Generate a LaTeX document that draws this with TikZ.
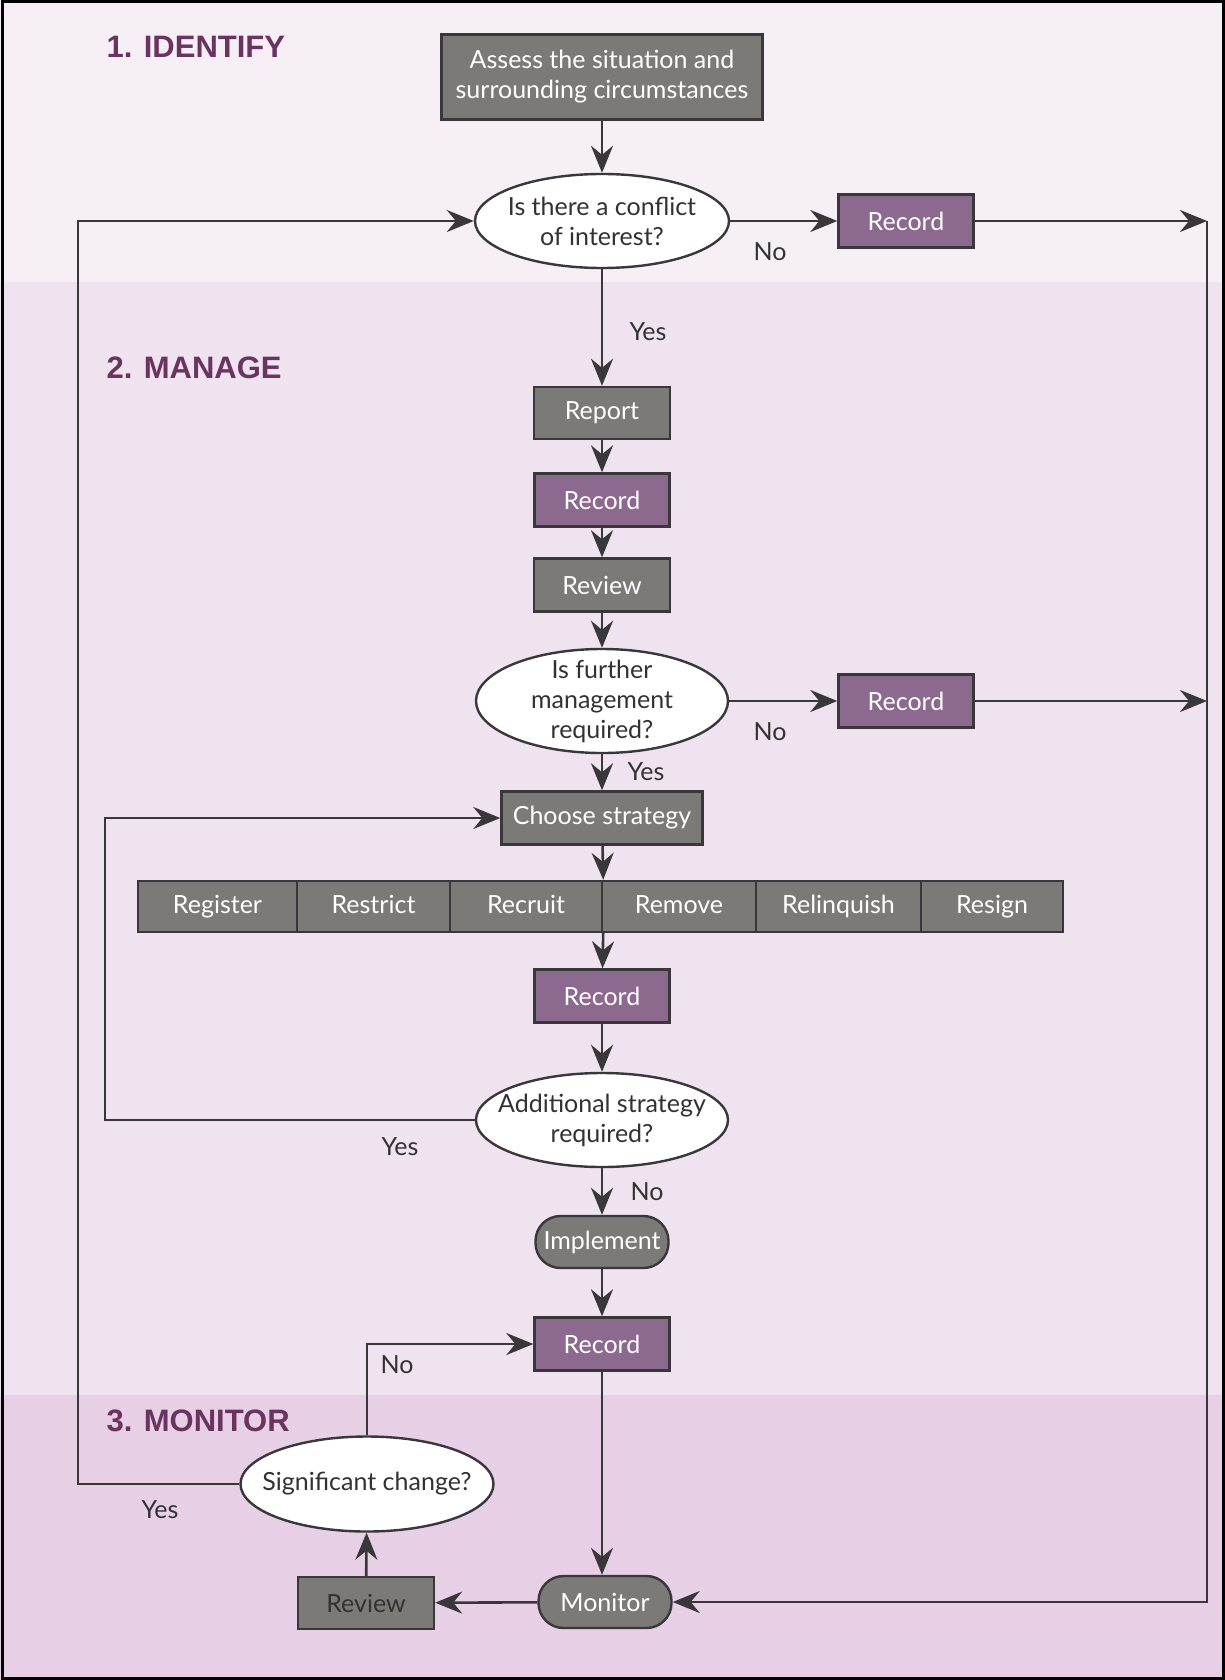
\documentclass[tikz,border=0pt]{standalone}
\usepackage{fontspec}
\setmainfont{Lato}
\newfontfamily\headfont{Liberation Sans}
\usetikzlibrary{shapes.geometric,arrows.meta}

\definecolor{boxgray}{HTML}{7B7A76}
\definecolor{recpurple}{HTML}{8C6A8F}
\definecolor{edgedark}{HTML}{3A373A}
\definecolor{headpurple}{HTML}{6B3460}
\definecolor{bgtop}{HTML}{F6F0F6}
\definecolor{bgmid}{HTML}{EEE3EF}
\definecolor{bgbot}{HTML}{E7D0E5}
\definecolor{labelgray}{HTML}{333133}

\begin{document}
\begin{tikzpicture}[x=1pt,y=-1pt,
    graybox/.style={draw=edgedark, line width=2.4pt, fill=boxgray, text=white,
      inner sep=0pt, align=center, font=\fontsize{25}{30}\selectfont},
    cell/.style={graybox, minimum height=51pt, text height=18pt, text depth=5pt},
    recbox/.style={graybox, fill=recpurple, minimum width=135pt, minimum height=53pt},
    stadium/.style={graybox, rounded corners=25pt, minimum width=133pt, minimum height=52pt},
    question/.style={ellipse, draw=edgedark, line width=2.4pt, fill=white, text=labelgray,
      inner xsep=-22pt, inner ysep=-12pt, align=center, font=\fontsize{25}{30}\selectfont},
    flow/.style={draw=edgedark, line width=2.6pt, -{Stealth[length=27pt,width=22pt,inset=9pt]}},
    answer/.style={text=labelgray, font=\fontsize{25}{30}\selectfont},
    phase/.style={anchor=west, text=headpurple, font=\headfont\bfseries\fontsize{31}{36}\selectfont}]
  \useasboundingbox (0,0) rectangle (1225,1680);

  % Page background
  \fill[bgtop] (0,0) rectangle (1225,282);
  \fill[bgmid] (0,282) rectangle (1225,1395);
  \fill[bgbot] (0,1395) rectangle (1225,1680);
  \draw[line width=3pt] (2,2) rectangle (1223,1678);

  % Phase headings
  \node[phase] (identify) at (103,47) {1. IDENTIFY};
  \node[phase] (manage) at (103,368) {2. MANAGE};
  \node[phase] (monitorhead) at (103,1421) {3. MONITOR};

  % Identify
  \node[graybox, minimum width=321pt, minimum height=85pt] (assess) at (602,77) {Assess the situation and\\surrounding circumstances};
  \node[question, minimum width=254pt, minimum height=94pt] (conflict) at (602,221) {Is there a conflict\\of interest?};
  \node[recbox] (recordno) at (906,221) {Record};

  % Manage
  \node[graybox, minimum width=136pt, minimum height=52pt] (report) at (602,413) {Report};
  \node[recbox] (recordrep) at (602,500) {Record};
  \node[graybox, minimum width=136pt, minimum height=53pt] (reviewmgmt) at (602,585) {Review};
  \node[question, minimum width=252pt, minimum height=104pt] (further) at (602,701) {Is further\\management\\required?};
  \node[recbox] (recordend) at (906,701) {Record};
  \node[graybox, minimum width=201pt, minimum height=53pt] (choose) at (602,818) {Choose strategy};

  % Strategy row
  \node[cell, minimum width=159pt] (register) at (217.5,906.5) {Register};
  \node[cell, minimum width=153pt] (restrict) at (373.5,906.5) {Restrict};
  \node[cell, minimum width=152pt] (recruit) at (526,906.5) {Recruit};
  \node[cell, minimum width=154pt] (remove) at (679,906.5) {Remove};
  \node[cell, minimum width=165pt] (relinquish) at (838.5,906.5) {Relinquish};
  \node[cell, minimum width=142pt] (resign) at (992,906.5) {Resign};

  \node[recbox] (recordstrat) at (602,996) {Record};
  \node[question, minimum width=252pt, minimum height=94pt] (additional) at (602,1120) {Additional strategy\\required?};
  \node[stadium] (implement) at (602,1242) {Implement};
  \node[recbox] (recordimpl) at (602,1344) {Record};

  % Monitor
  \node[question, minimum width=253pt, minimum height=95pt] (change) at (367,1484) {Significant change?};
  \node[graybox, text=labelgray, minimum width=136pt, minimum height=52pt] (reviewmon) at (366,1603) {Review};
  \node[stadium] (monitor) at (605,1602) {Monitor};

  % Free ends of the long lines
  \coordinate (righttop) at (1207,221);
  \coordinate (rightmid) at (1207,701);
  \coordinate (outerleft) at (78,221);
  \coordinate (loopleft) at (105,818);

  % Drawing main column
  \draw[flow] (assess) -- (conflict);
  \draw[flow] (conflict) -- (report);
  \draw[flow] (report) -- (recordrep);
  \draw[flow] (recordrep) -- (reviewmgmt);
  \draw[flow] (reviewmgmt) -- (further);
  \draw[flow] (further) -- (choose);
  \draw[flow] (choose) -- (recruit.north east);
  \draw[flow] (recruit.south east) -- (recordstrat);
  \draw[flow] (recordstrat) -- (additional);
  \draw[flow] (additional) -- (implement);
  \draw[flow] (implement) -- (recordimpl);
  \draw[flow] (recordimpl.south) -- (recordimpl.south |- monitor.north);

  % Drawing the No branches to the right
  \draw[flow] (conflict) -- (recordno);
  \draw[flow] (recordno) -- (righttop);
  \draw[flow] (further) -- (recordend);
  \draw[flow] (recordend) -- (rightmid);
  \draw[flow] (righttop) |- (monitor.east);

  % Drawing the loops back
  \draw[flow] (additional.west) -| (loopleft) -- (choose.west);
  \draw[flow] (monitor) -- (reviewmon);
  \draw[flow] (reviewmon) -- (change);
  \draw[flow] (change.north) |- (recordimpl.west);
  \draw[flow] (change.west) -| (outerleft) -- (conflict.west);

  % Answer labels
  \node[answer] (noconflict) at (770,252) {No};
  \node[answer] (yesconflict) at (648,332) {Yes};
  \node[answer] (nofurther) at (770,732) {No};
  \node[answer] (yesfurther) at (646,772) {Yes};
  \node[answer] (yesadditional) at (400,1147) {Yes};
  \node[answer] (noadditional) at (647,1192) {No};
  \node[answer] (nochange) at (397,1365) {No};
  \node[answer] (yeschange) at (160,1510) {Yes};
\end{tikzpicture}
\end{document}
